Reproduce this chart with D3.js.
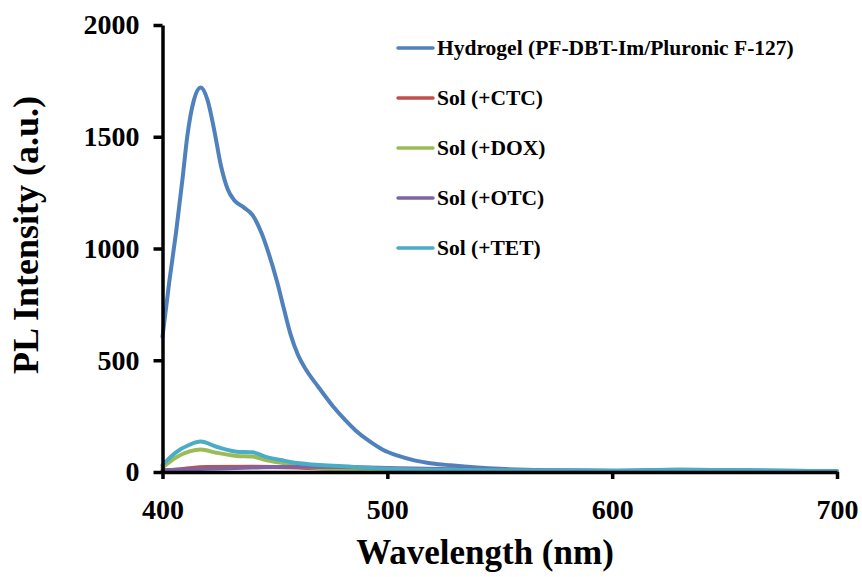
<!DOCTYPE html>
<html>
<head>
<meta charset="utf-8">
<script src="https://cdn.jsdelivr.net/npm/d3@7/dist/d3.min.js"></script>
<style>
  html, body { margin: 0; padding: 0; background: #fff; }
  svg { display: block; font-family: "Liberation Serif", "Times New Roman", serif; font-weight: bold; }
</style>
</head>
<body>
<svg id="chart" width="862" height="577"></svg>
<script>
// ---- Data ----
const seriesNames = ["Hydrogel (PF-DBT-Im/Pluronic F-127)", "Sol (+CTC)", "Sol (+DOX)", "Sol (+OTC)", "Sol (+TET)"];
const seriesColors = ["#4F81BD", "#C0504D", "#9BBB59", "#8064A2", "#4BACC6"];

const hydrogel = [[400,605],[403,850],[406,1070],[409,1320],[411,1500],[414,1665],[417,1720],[420,1665],[423,1530],[426,1370],[429,1265],[432,1215],[436,1185],[440,1150],[444,1070],[447,985],[451,850],[454,730],[457,615],[460,530],[464,455],[469,385],[476,292],[481,235],[486,185],[492,138],[498,100],[505,72],[512,52],[520,38],[528,30],[540,20],[550,14],[570,8],[600,6],[630,10],[660,8],[700,3]];
const solCTC = [[400,5],[410,15],[420,22],[440,24],[460,20],[480,12],[500,6],[530,2],[600,1],[700,0]];
const solDOX = [[400,20],[406,65],[412,92],[417,101],[424,86],[433,72],[440,69],[446,54],[454,39],[460,28],[470,18],[485,10],[500,6],[550,3],[600,2],[700,1]];
const solOTC = [[400,8],[420,14],[440,20],[460,24],[480,22],[500,18],[530,12],[560,8],[600,4],[650,3],[700,1]];
const solTET = [[400,31],[406,88],[412,122],[417,136],[424,113],[433,91],[440,88],[446,68],[454,51],[461,39],[470,31],[484,24],[498,16],[520,10],[550,8],[600,6],[630,10],[660,8],[700,3]];
const seriesData = [hydrogel, solCTC, solDOX, solOTC, solTET];

const xTicks = [400, 500, 600, 700];
const yTicks = [0, 500, 1000, 1500, 2000];
const xTitle = "Wavelength (nm)";
const yTitle = "PL Intensity (a.u.)";

// ---- Layout ----
const svg = d3.select("#chart");
const x = d3.scaleLinear().domain([400, 700]).range([162.5, 837]);
const y = d3.scaleLinear().domain([0, 2000]).range([472, 25]);

const line = d3.line()
  .x(d => x(d[0]))
  .y(d => y(d[1]))
  .curve(d3.curveMonotoneX);

// curves
const curves = svg.append("g");
seriesData.forEach((data, i) => {
  curves.append("path")
    .datum(data)
    .attr("d", line)
    .attr("fill", "none")
    .attr("stroke", seriesColors[i])
    .attr("stroke-width", 4)
    .attr("stroke-linejoin", "round")
    .attr("stroke-linecap", "round");
});

// y axis
const yAxis = svg.append("g")
  .attr("transform", `translate(${x(400)},0)`)
  .call(d3.axisLeft(y).tickValues(yTicks).tickSize(9).tickSizeOuter(0).tickPadding(14).tickFormat(d3.format("d")));
yAxis.select(".domain").attr("stroke", "#000").attr("stroke-width", 3.5);
yAxis.selectAll(".tick line").attr("stroke", "#000").attr("stroke-width", 3.5);
yAxis.selectAll(".tick text")
  .attr("fill", "#000")
  .style("font-size", "28px")
  .style("font-weight", "bold")
  .style("font-family", "'Liberation Serif', 'Times New Roman', serif");

// x axis
const xAxis = svg.append("g")
  .attr("transform", `translate(0,${y(0)})`)
  .call(d3.axisBottom(x).tickValues(xTicks).tickSize(7).tickSizeOuter(0).tickPadding(20).tickFormat(d3.format("d")));
xAxis.select(".domain").attr("stroke", "#000").attr("stroke-width", 3.5);
xAxis.selectAll(".tick line").attr("stroke", "#000").attr("stroke-width", 3.5);
xAxis.selectAll(".tick text")
  .attr("fill", "#000")
  .style("font-size", "28px")
  .style("font-weight", "bold")
  .style("font-family", "'Liberation Serif', 'Times New Roman', serif");

// axis titles
svg.append("text")
  .attr("x", 485).attr("y", 564)
  .attr("text-anchor", "middle")
  .style("font-size", "35px")
  .text(xTitle);

svg.append("text")
  .attr("transform", "translate(38,235) rotate(-90)")
  .attr("text-anchor", "middle")
  .style("font-size", "36px")
  .text(yTitle);

// legend
const legend = svg.append("g");
seriesNames.forEach((name, i) => {
  const cy = 48 + i * 50;
  legend.append("line")
    .attr("x1", 398).attr("x2", 433)
    .attr("y1", cy).attr("y2", cy)
    .attr("stroke", seriesColors[i])
    .attr("stroke-width", 3.5)
    .attr("stroke-linecap", "round");
  legend.append("text")
    .attr("x", 437).attr("y", cy + 7)
    .style("font-size", "21.5px")
    .text(name);
});
</script>
</body>
</html>
